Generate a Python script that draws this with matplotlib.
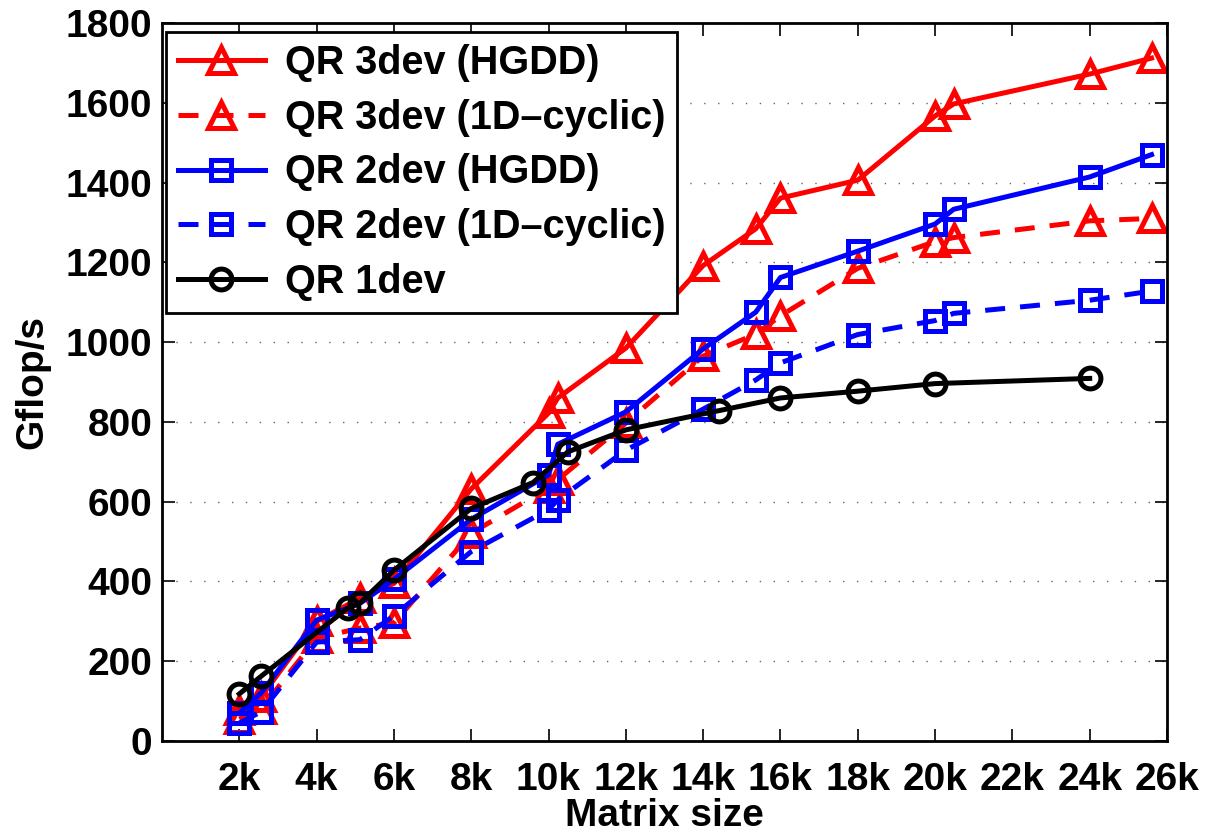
import matplotlib.pyplot as plt

# matrix sizes
x_multi = [2000, 2560, 4000, 5120, 6000, 8000, 10000, 10240, 12000, 14000,
           15360, 16000, 18000, 20000, 20480, 24000, 25600]
x_1dev = [2000, 2560, 4800, 5120, 6000, 8000, 9600, 10500, 12000, 14400,
          16000, 18000, 20000, 24000]

# Gflop/s
qr3_hgdd = [78, 110, 300, 358, 395, 632, 822, 860, 985, 1192,
            1284, 1361, 1406, 1567, 1597, 1672, 1712]
qr3_cyc = [55, 80, 258, 283, 296, 521, 635, 655, 797, 965,
           1020, 1066, 1185, 1252, 1262, 1304, 1310]
qr2_hgdd = [70, 120, 303, 345, 405, 556, 667, 744, 825, 983,
            1075, 1162, 1228, 1296, 1333, 1414, 1470]
qr2_cyc = [45, 73, 248, 254, 314, 475, 580, 605, 729, 832,
           905, 948, 1019, 1054, 1072, 1105, 1128]
qr1 = [118, 162, 333, 346, 428, 583, 648, 725, 780, 828, 860, 877, 896, 909]

xticks = list(range(2000, 26001, 2000))
xticklabels = [f"{t // 1000}k" for t in xticks]
yticks = list(range(0, 1801, 200))

plt.rcParams['font.family'] = ['Liberation Sans', 'DejaVu Sans']
plt.rcParams['font.weight'] = 'bold'

fig = plt.figure(figsize=(12.12, 8.34), dpi=100)
ax = fig.add_axes([162 / 1212, 1 - 741 / 834, (1167 - 162) / 1212, (741 - 23) / 834])

dash = (0, (4, 3))
lw, mew = 3.6, 3.6
ax.plot(x_multi, qr3_hgdd, color='red', lw=lw, marker='^', ms=19, mfc='none',
        mew=mew, label='QR 3dev (HGDD)')
ax.plot(x_multi, qr3_cyc, color='red', lw=lw, ls=dash, marker='^', ms=19, mfc='none',
        mew=mew, label='QR 3dev (1D\u2013cyclic)')
ax.plot(x_multi, qr2_hgdd, color='blue', lw=lw, marker='s', ms=14, mfc='none',
        mew=mew, label='QR 2dev (HGDD)')
ax.plot(x_multi, qr2_cyc, color='blue', lw=lw, ls=dash, marker='s', ms=14, mfc='none',
        mew=mew, label='QR 2dev (1D\u2013cyclic)')
ax.plot(x_1dev, qr1, color='black', lw=lw, marker='o', ms=15, mfc='none',
        mew=mew, label='QR 1dev')

ax.set_xlim(0, 26000)
ax.set_ylim(0, 1800)
ax.set_xticks(xticks)
ax.set_xticklabels(xticklabels, fontsize=28, fontweight='bold')
ax.set_yticks(yticks)
ax.set_yticklabels([str(t) for t in yticks], fontsize=28, fontweight='bold')
ax.tick_params(direction='in', length=9, width=1.2, top=True, right=True)
ax.tick_params(axis='x', pad=15)
ax.tick_params(axis='y', pad=7)
ax.grid(axis='y', color='black', lw=1, ls=(0, (1, 9)), alpha=0.6)
for s in ax.spines.values():
    s.set_linewidth(2)

ax.set_xlabel('Matrix size', fontsize=28, fontweight='bold', labelpad=0)
ax.set_ylabel('Gflop/s', fontsize=28, fontweight='bold')
ax.yaxis.set_label_coords(-0.111, 0.5)

leg = ax.legend(loc='upper left', bbox_to_anchor=(0.004, 0.987), fontsize=28.5,
                handlelength=2.2, handletextpad=0.5, labelspacing=0.42,
                borderpad=0.3, borderaxespad=0, fancybox=False, framealpha=1,
                edgecolor='black')
leg.get_frame().set_linewidth(2)

fig.savefig('out.png', dpi=100)
